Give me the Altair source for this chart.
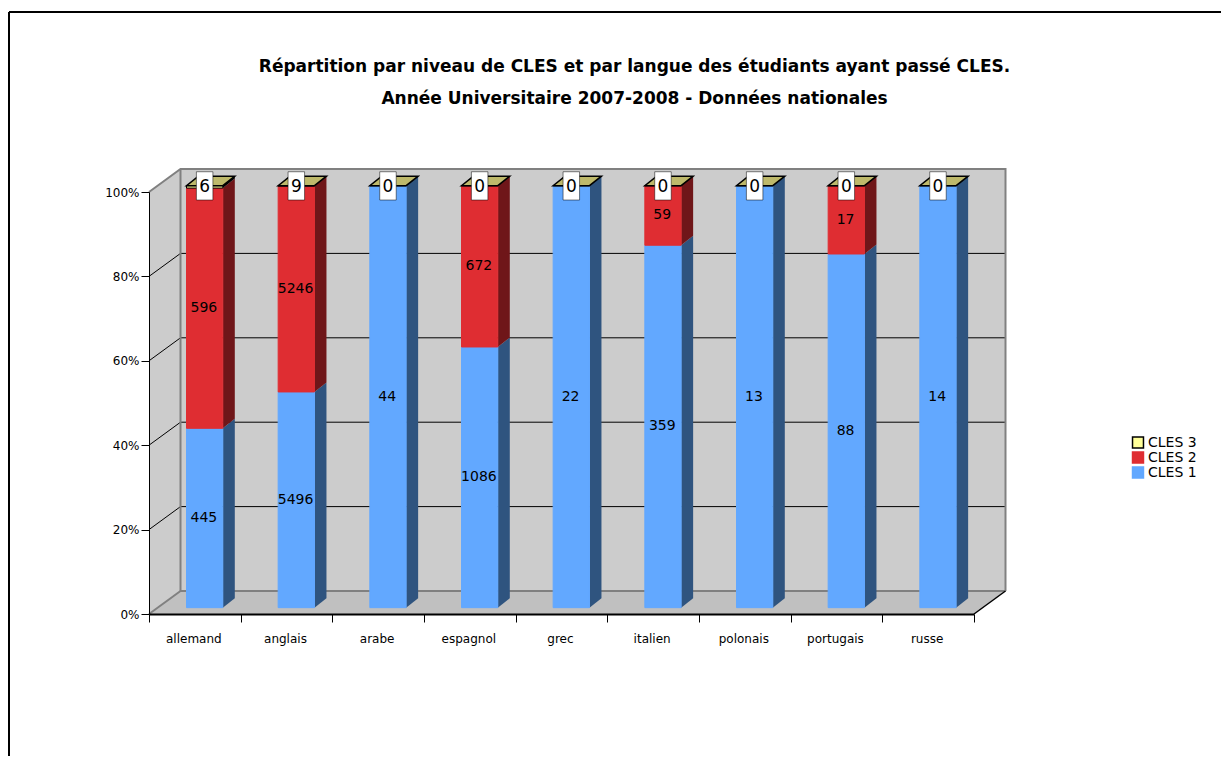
import json
import altair as alt
import pandas as pd

categories = ["allemand", "anglais", "arabe", "espagnol", "grec", "italien", "polonais", "portugais", "russe"]
cles1 = [445, 5496, 44, 1086, 22, 359, 13, 88, 14]
cles2 = [596, 5246, 0, 672, 0, 59, 0, 17, 0]
cles3 = [6, 9, 0, 0, 0, 0, 0, 0, 0]
series_names = ["CLES 3", "CLES 2", "CLES 1"]
series_colors = ["#FFFF99", "#DF2D32", "#62A8FF"]
series_strokes = ["#000000", "#DF2D32", "#62A8FF"]
side_colors = {"CLES 1": "#2F547F", "CLES 2": "#6F1619", "CLES 3": "#000000"}
title_lines = ["Répartition par niveau de CLES et par langue des étudiants ayant passé CLES.",
               "Année Universitaire 2007-2008 - Données nationales"]
y_ticks = [0, 20, 40, 60, 80, 100]

PW, PH = 825, 422
UX, UY = PW / 9, PH / 100          # pixels per unit of each scale
WALL_DX, WALL_DY = 31.5 / UX, 23 / UY
BAR_L, BAR_W = 37.5 / UX, 36.3 / UX
BAR_DX, BAR_DY = 12 / UX, 9.5 / UY
BASE = 1.5

x_s = alt.Scale(domain=[0, 9], nice=False, zero=False)
y_s = alt.Scale(domain=[0, 100], nice=False, zero=False)
X = lambda f="x": alt.X(f"{f}:Q", scale=x_s, title=None)
Y = lambda f="y": alt.Y(f"{f}:Q", scale=y_s, title=None)

# stacks -------------------------------------------------------------------
fronts, sides, tops, labels, boxes = [], [], [], [], []
for i, cat in enumerate(categories):
    total = cles1[i] + cles2[i] + cles3[i]
    left = i + BAR_L
    right = left + BAR_W
    mid = left + BAR_W / 2
    lo = 0.0
    for name, vals in (("CLES 1", cles1), ("CLES 2", cles2), ("CLES 3", cles3)):
        pct = vals[i] / total * 100
        y0, y1 = BASE + lo, BASE + lo + pct
        lo += pct
        if vals[i] > 0 or name == "CLES 3":
            fronts.append(dict(cat=cat, serie=name, x=left, x2=right, y=y0, y2=y1))
            for t in (0, 1):
                sides.append(dict(id=f"{cat}{name}", serie=name, x=right + t * BAR_DX,
                                  y=y1 + t * BAR_DY, y2=y0 + t * BAR_DY))
        if name != "CLES 3" and vals[i] > 0:
            labels.append(dict(x=mid - 0.008, y=(y0 + y1) / 2, t=str(vals[i])))
        if name == "CLES 3":
            for t in (0, 1):
                tops.append(dict(id=cat, x=left + t * BAR_DX, x2=right + t * BAR_DX, y=y1 + t * BAR_DY))
            boxes.append(dict(x=mid - 0.09, x2=mid + 0.09, y=y1 - 3.4, y2=y1 + 3.3, xm=mid, ym=y1 - 0.2, t=str(vals[i])))

fronts, sides, tops, labels, boxes = map(pd.DataFrame, (fronts, sides, tops, labels, boxes))

# walls --------------------------------------------------------------------
back = pd.DataFrame([dict(x=WALL_DX, x2=9 + WALL_DX, y=WALL_DY, y2=100 + WALL_DY)])
left_wall = pd.DataFrame([dict(x=0, y=100, y2=0), dict(x=WALL_DX, y=100 + WALL_DY, y2=WALL_DY)])
floor = pd.DataFrame([dict(y=0, x=0, x2=9), dict(y=WALL_DY, x=WALL_DX, x2=9 + WALL_DX)])
grid_back = pd.DataFrame([dict(y=v + WALL_DY, x=WALL_DX, x2=9 + WALL_DX) for v in y_ticks[1:-1]])
grid_left = pd.DataFrame([dict(id=v, x=t * WALL_DX, y=v + t * WALL_DY) for v in y_ticks[1:-1] for t in (0, 1)])
edge_gray = pd.DataFrame([
    dict(id="a", o=0, x=0, y=100), dict(id="a", o=1, x=WALL_DX, y=100 + WALL_DY),
    dict(id="a", o=2, x=9 + WALL_DX, y=100 + WALL_DY), dict(id="a", o=3, x=9 + WALL_DX, y=WALL_DY),
    dict(id="b", o=0, x=WALL_DX, y=100 + WALL_DY), dict(id="b", o=1, x=WALL_DX, y=WALL_DY),
    dict(id="b", o=2, x=9 + WALL_DX, y=WALL_DY),
    dict(id="c", o=0, x=0, y=0), dict(id="c", o=1, x=WALL_DX, y=WALL_DY),
])
edge_black = pd.DataFrame([dict(x=9, y=0), dict(x=9 + WALL_DX, y=WALL_DY)])

# real axes ----------------------------------------------------------------
names_js = json.dumps(categories)
axes = alt.Chart(pd.DataFrame({"x": [0], "y": [0]})).mark_point(opacity=0).encode(
    x=alt.X("x:Q", scale=x_s, title=None, axis=alt.Axis(
        values=list(range(10)), labelExpr=f"({names_js})[datum.value] || ''", labelOffset=44.3,
        labelFontSize=12, labelFont="DejaVu Sans", labelColor="#000", labelPadding=11, labelOverlap=False,
        labelFlush=False, tickSize=8, tickColor="#000", tickWidth=1, domainColor="#000", domainWidth=2,
        grid=False, zindex=2)),
    y=alt.Y("y:Q", scale=y_s, title=None, axis=alt.Axis(
        values=y_ticks, format=".0f", labelExpr="datum.label + '%'", labelFontSize=12, labelFont="DejaVu Sans",
        labelColor="#000", labelPadding=2, tickSize=8, tickColor="#000", tickWidth=1,
        domainColor="#000", domainWidth=1, grid=False, zindex=2)),
)

walls = [
    alt.Chart(back).mark_rect(color="#CCCCCC").encode(x=X(), x2="x2:Q", y=Y(), y2="y2:Q"),
    alt.Chart(left_wall).mark_area(color="#CCCCCC", orient="vertical").encode(x=X(), y=Y(), y2="y2:Q"),
    alt.Chart(floor).mark_area(color="#C0C0C0", orient="horizontal").encode(y=Y(), x=X(), x2="x2:Q"),
    alt.Chart(grid_back).mark_rule(color="#000", strokeWidth=1).encode(y=Y(), x=X(), x2="x2:Q"),
    alt.Chart(grid_left).mark_line(color="#000", strokeWidth=1).encode(x=X(), y=Y(), detail="id:N"),
    alt.Chart(edge_gray).mark_line(color="#808080", strokeWidth=2).encode(
        x=X(), y=Y(), detail="id:N", order="o:Q"),
    alt.Chart(edge_black).mark_line(color="#000", strokeWidth=1.5).encode(x=X(), y=Y()),
]

side_layers = [
    alt.Chart(sides[sides.serie == name]).mark_area(orient="vertical", color=col).encode(
        x=X(), y=Y(), y2="y2:Q", detail="id:N")
    for name, col in side_colors.items()
]

legend = alt.Legend(title=None, orient="none", legendX=982, legendY=244, symbolType="square",
                    symbolSize=120, symbolStrokeWidth=1.5, labelFontSize=14, labelFont="DejaVu Sans",
                    labelColor="#000", rowPadding=0, labelOffset=3, clipHeight=13)
front_layer = alt.Chart(fronts).mark_rect(strokeWidth=1).encode(
    x=X(), x2="x2:Q", y=Y(), y2="y2:Q",
    fill=alt.Fill("serie:N", title=None, scale=alt.Scale(domain=series_names, range=series_colors),
                  sort=series_names, legend=legend),
    stroke=alt.Stroke("serie:N", title=None, scale=alt.Scale(domain=series_names, range=series_strokes),
                      sort=series_names, legend=legend),
)
top_layer = alt.Chart(tops).mark_area(orient="horizontal", color="#BEB96B", stroke="#000", strokeWidth=1.5).encode(
    y=Y(), x=X(), x2="x2:Q", detail="id:N")
label_layer = alt.Chart(labels).mark_text(fontSize=14, font="DejaVu Sans", color="#000").encode(x=X(), y=Y(), text="t:N")
box_layer = alt.Chart(boxes).mark_rect(fill="#FFFFFF", stroke="#000", strokeWidth=0.5).encode(x=X(), x2="x2:Q", y=Y(), y2="y2:Q")
box_text = alt.Chart(boxes).mark_text(fontSize=17, font="DejaVu Sans", color="#000").encode(x=X("xm"), y=Y("ym"), text="t:N")

frame_src = pd.DataFrame({"a": [0]})
frame_top = alt.Chart(frame_src).mark_rule(color="#000", strokeWidth=2).encode(
    x=alt.value(-140), x2=alt.value(1090), y=alt.value(-180))
frame_left = alt.Chart(frame_src).mark_rule(color="#000", strokeWidth=2).encode(
    x=alt.value(-140), y=alt.value(-180), y2=alt.value(580))

chart = alt.layer(
    axes, frame_top, frame_left, *walls, *side_layers, front_layer, top_layer, label_layer, box_layer, box_text
).properties(
    width=PW, height=PH,
    title=alt.TitleParams(text=title_lines, font="DejaVu Sans", fontSize=17, fontWeight="bold", color="#000",
                          lineHeight=32, anchor="middle", dx=73, offset=-97),
    padding={"left": 141, "top": 184, "right": 247, "bottom": 142},
    autosize="none",
    background="#FFFFFF",
).configure_view(stroke=None)

chart.save("out.html", embed_options={"renderer": "svg", "actions": False})
